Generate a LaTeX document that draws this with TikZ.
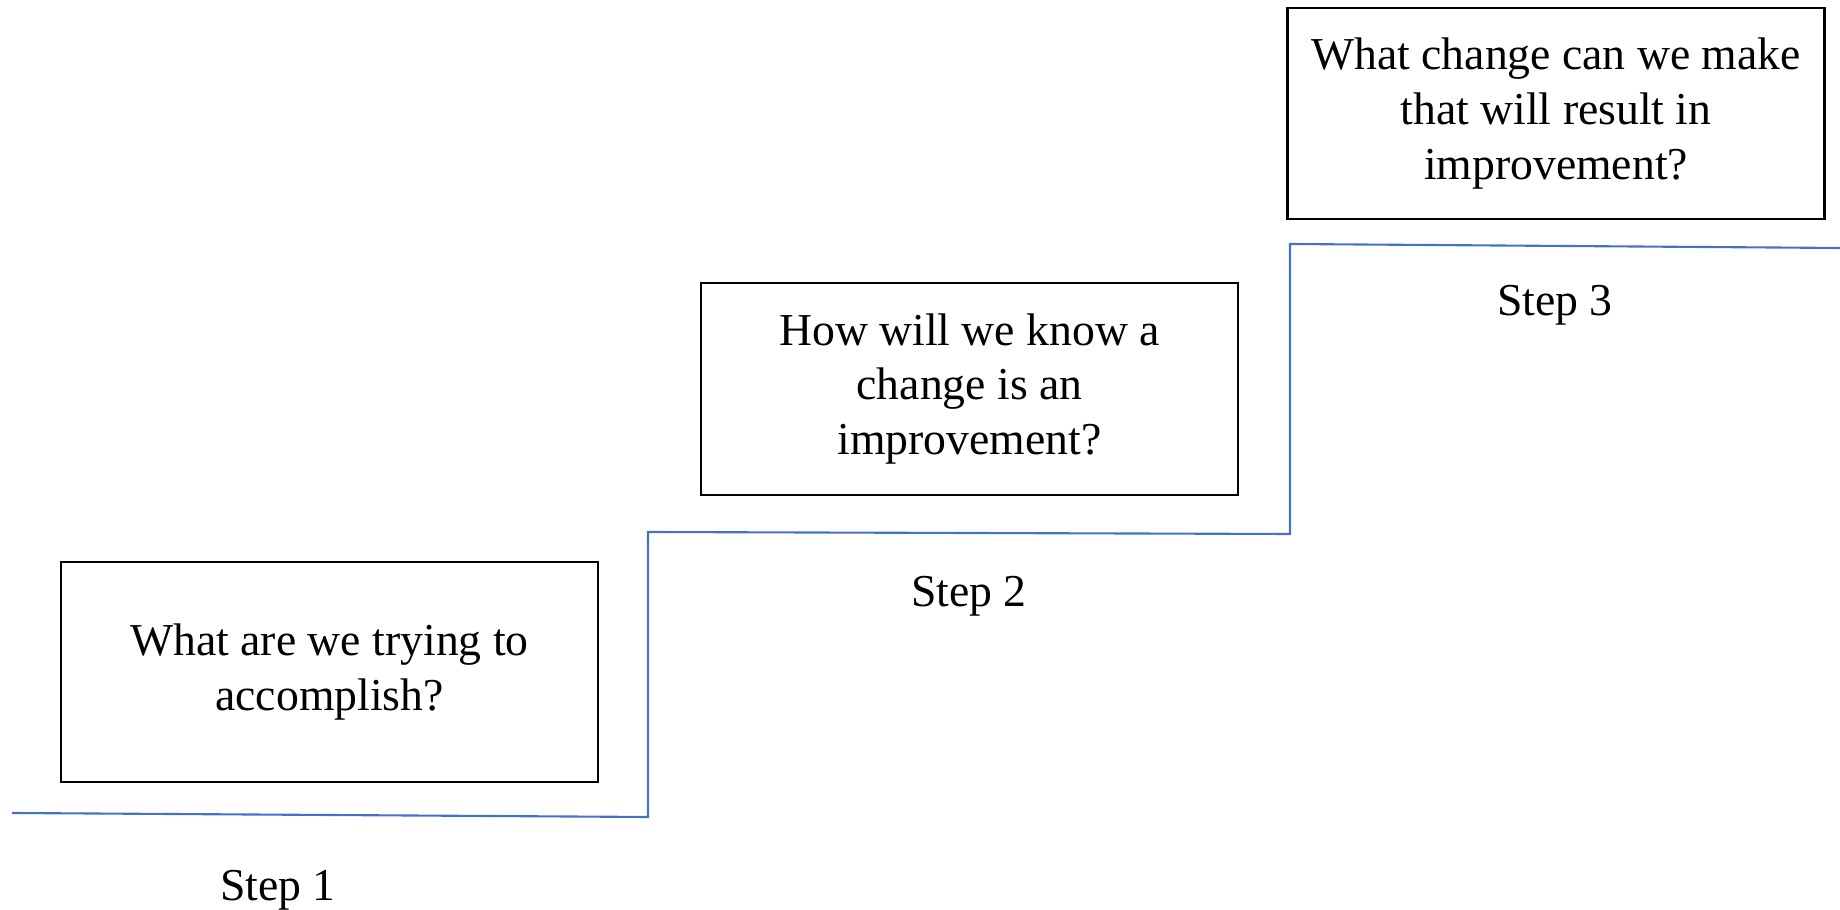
\documentclass[tikz,border=0pt]{standalone}
\usepackage{fontspec}
\setmainfont{Liberation Serif}
\usepackage{tikz}
\usetikzlibrary{positioning}
\definecolor{stairblue}{HTML}{4472C4}

\begin{document}
\begin{tikzpicture}[
        question/.style={draw, line width=0.8pt, minimum width=5.37cm, minimum height=2.15cm, align=center, font=\fontsize{13}{15.6}\selectfont},
        steplabel/.style={font=\fontsize{13}{15.6}\selectfont},
        stair/.style={stairblue, line width=0.6pt}
    ]
        \useasboundingbox (0,0) rectangle (18.4,9.1);

        \node[question, minimum height=2.2cm] (q1) at (3.295,2.38) {What are we trying to\\accomplish?};
        \node[question, minimum height=2.12cm] (q2) at (9.695,5.21) {How will we know a\\change is an\\improvement?};
        \node[question, minimum height=2.11cm] (q3) at (15.56,7.965) {What change can we make\\that will result in\\improvement?};

        \node[steplabel] (s1) at (2.78,0.20) {Step 1};
        \node[steplabel] (s2) at (9.69,3.14) {Step 2};
        \node[steplabel] (s3) at (15.55,6.05) {Step 3};

        \draw[stair] (0.12,0.97) -- (6.48,0.93) -- (6.48,3.78) -- (12.90,3.76) -- (12.90,6.66) -- (18.40,6.62);
    \end{tikzpicture}
\end{document}
